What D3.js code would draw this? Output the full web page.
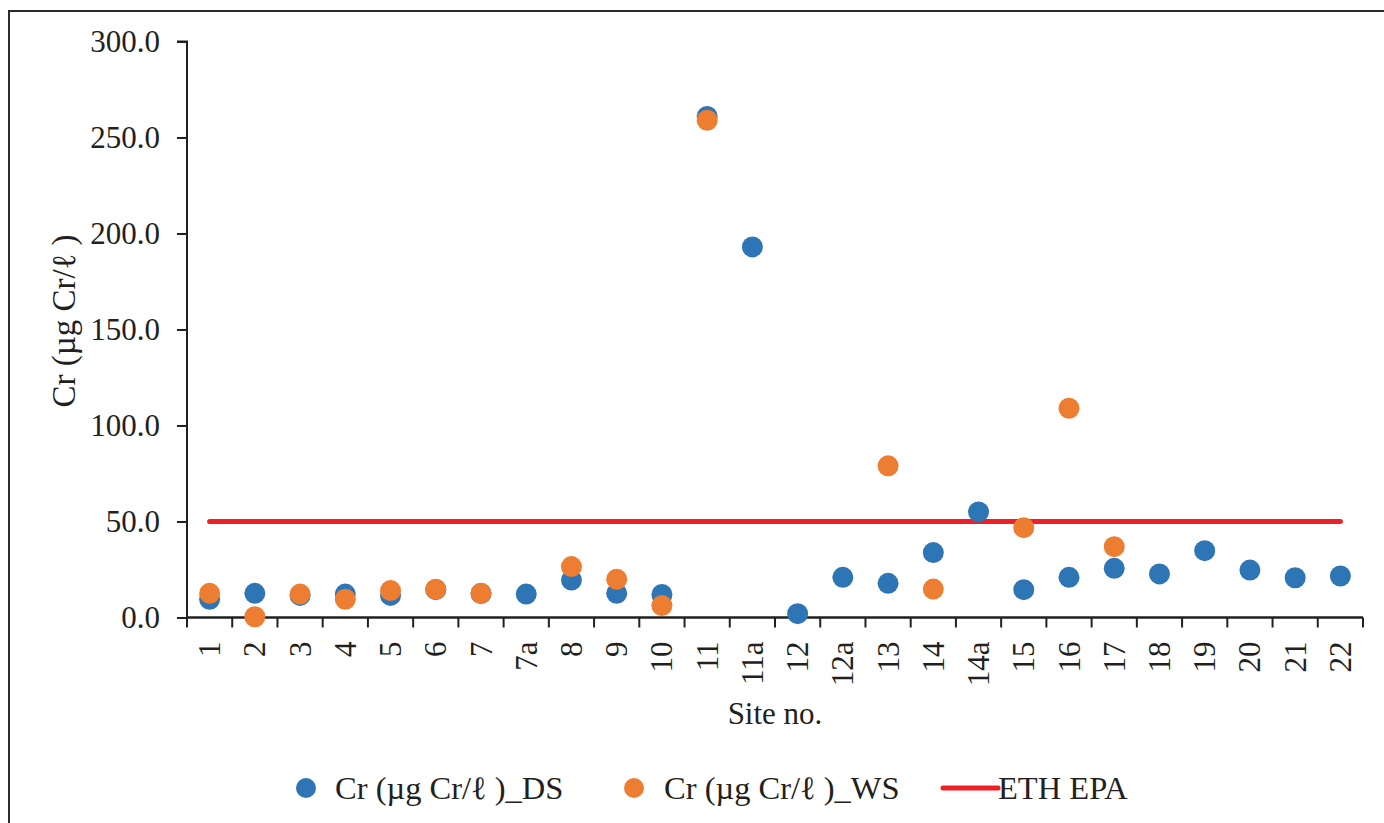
<!DOCTYPE html>
<html>
<head>
<meta charset="utf-8">
<script src="https://cdn.jsdelivr.net/npm/d3@7/dist/d3.min.js"></script>
<style>
  html, body { margin: 0; padding: 0; background: #fff; }
  svg { display: block; }
  text { font-family: "Liberation Serif", "Times New Roman", serif; fill: #231f20; }
</style>
</head>
<body>
<svg id="chart" width="1384" height="823"></svg>
<script>
// Chromium (Cr) concentration per sampling site, dry season vs wet season
const sites = ["1","2","3","4","5","6","7","7a","8","9","10","11","11a","12","12a","13","14","14a","15","16","17","18","19","20","21","22"];
const crDS = [9.5, 12.6, 11.5, 12.2, 11.5, 14.5, 12.5, 12.2, 19.5, 12.6, 12.0, 261.0, 193.0, 2.0, 20.9, 17.8, 33.8, 55.0, 14.5, 20.9, 25.6, 22.7, 34.8, 24.7, 20.7, 21.6];
const crWS = [12.6, 0.4, 12.2, 9.5, 14.0, 14.7, 12.6, null, 26.5, 19.9, 6.2, 259.0, null, null, null, 79.0, 14.8, null, 46.8, 109.0, 36.9, null, null, null, null, null];
const ethEpaLimit = 50;
const yTickValues = [0, 50, 100, 150, 200, 250, 300];
const seriesNames = ["Cr (\u00b5g Cr/\u2113 )_DS", "Cr (\u00b5g Cr/\u2113 )_WS", "ETH EPA"];

const colors = { ds: "#2e75b6", ws: "#ed7d31", limit: "#ee1f26", axis: "#231f20" };

const svg = d3.select("#chart");

// outer frame (left and top edges)
svg.append("path")
  .attr("d", "M9,823 L9,11 L1384,11")
  .attr("fill", "none")
  .attr("stroke", "#2b2b2b")
  .attr("stroke-width", 2);

const plot = { left: 187, right: 1363, top: 41.5, bottom: 617.5 };

const x = d3.scaleBand().domain(sites).range([plot.left, plot.right]).padding(0);
const y = d3.scaleLinear().domain([0, 300]).range([plot.bottom, plot.top]);

// Y axis
const yAxis = svg.append("g")
  .attr("transform", `translate(${plot.left},0)`)
  .call(d3.axisLeft(y).tickValues(yTickValues).tickFormat(d3.format(".1f")).tickSize(10).tickPadding(17));
yAxis.select(".domain").attr("stroke", colors.axis).attr("stroke-width", 2)
  .attr("d", `M-10,${y(300)}H0V${y(0)}`);
yAxis.selectAll(".tick line").attr("stroke", colors.axis).attr("stroke-width", 2);
yAxis.selectAll(".tick text").attr("font-size", 31).attr("fill", colors.axis)
  .attr("font-family", "Liberation Serif, serif");

// X axis with tick marks on category boundaries
const xAxisG = svg.append("g").attr("transform", `translate(0,${plot.bottom})`);
xAxisG.append("line")
  .attr("x1", plot.left).attr("x2", plot.right)
  .attr("stroke", colors.axis).attr("stroke-width", 2.5);
const boundaries = sites.map(s => x(s)).concat([x(sites[sites.length - 1]) + x.bandwidth()]);
xAxisG.selectAll("line.tick")
  .data(boundaries)
  .join("line")
  .attr("class", "tick")
  .attr("x1", d => d).attr("x2", d => d)
  .attr("y1", 0).attr("y2", 10)
  .attr("stroke", colors.axis).attr("stroke-width", 2);
xAxisG.selectAll("text.lbl")
  .data(sites)
  .join("text")
  .attr("class", "lbl")
  .attr("transform", d => `translate(${x(d) + x.bandwidth() / 2},24) rotate(-90)`)
  .attr("text-anchor", "end")
  .attr("dominant-baseline", "central")
  .attr("font-size", 31)
  .text(d => d);

// axis titles
svg.append("text")
  .attr("x", (plot.left + plot.right) / 2)
  .attr("y", 724)
  .attr("text-anchor", "middle")
  .attr("font-size", 31)
  .text("Site no.");

svg.append("text")
  .attr("transform", `translate(64,321) rotate(-90)`)
  .attr("text-anchor", "middle")
  .attr("dominant-baseline", "central")
  .attr("font-size", 33)
  .text("Cr (\u00b5g Cr/\u2113 )");

// ETH EPA guideline
const limitLine = d3.line().x(d => x(d) + x.bandwidth() / 2).y(() => y(ethEpaLimit));
svg.append("path")
  .datum([sites[0], sites[sites.length - 1]])
  .attr("d", limitLine)
  .attr("stroke", colors.limit)
  .attr("stroke-width", 5)
  .attr("stroke-linecap", "round")
  .attr("fill", "none");

const r = 10.5;
// dry season
svg.append("g").selectAll("circle")
  .data(sites.map((s, i) => ({ s, v: crDS[i] })).filter(d => d.v != null))
  .join("circle")
  .attr("cx", d => x(d.s) + x.bandwidth() / 2)
  .attr("cy", d => y(d.v))
  .attr("r", r)
  .attr("fill", colors.ds);

// wet season
svg.append("g").selectAll("circle")
  .data(sites.map((s, i) => ({ s, v: crWS[i] })).filter(d => d.v != null))
  .join("circle")
  .attr("cx", d => x(d.s) + x.bandwidth() / 2)
  .attr("cy", d => y(d.v))
  .attr("r", r)
  .attr("fill", colors.ws);

// legend
const legendY = 788;
const legendFont = 32.5;
const legend = svg.append("g");
legend.append("circle").attr("cx", 306).attr("cy", legendY).attr("r", 10).attr("fill", colors.ds);
legend.append("text").attr("x", 335).attr("y", legendY).attr("dominant-baseline", "central")
  .attr("font-size", legendFont).text(seriesNames[0]);
legend.append("circle").attr("cx", 634).attr("cy", legendY).attr("r", 10).attr("fill", colors.ws);
legend.append("text").attr("x", 664).attr("y", legendY).attr("dominant-baseline", "central")
  .attr("font-size", legendFont).text(seriesNames[1]);
legend.append("line").attr("x1", 943).attr("x2", 998).attr("y1", legendY).attr("y2", legendY)
  .attr("stroke", colors.limit).attr("stroke-width", 5).attr("stroke-linecap", "round");
legend.append("text").attr("x", 998).attr("y", legendY).attr("dominant-baseline", "central")
  .attr("font-size", legendFont).text(seriesNames[2]);
</script>
</body>
</html>
